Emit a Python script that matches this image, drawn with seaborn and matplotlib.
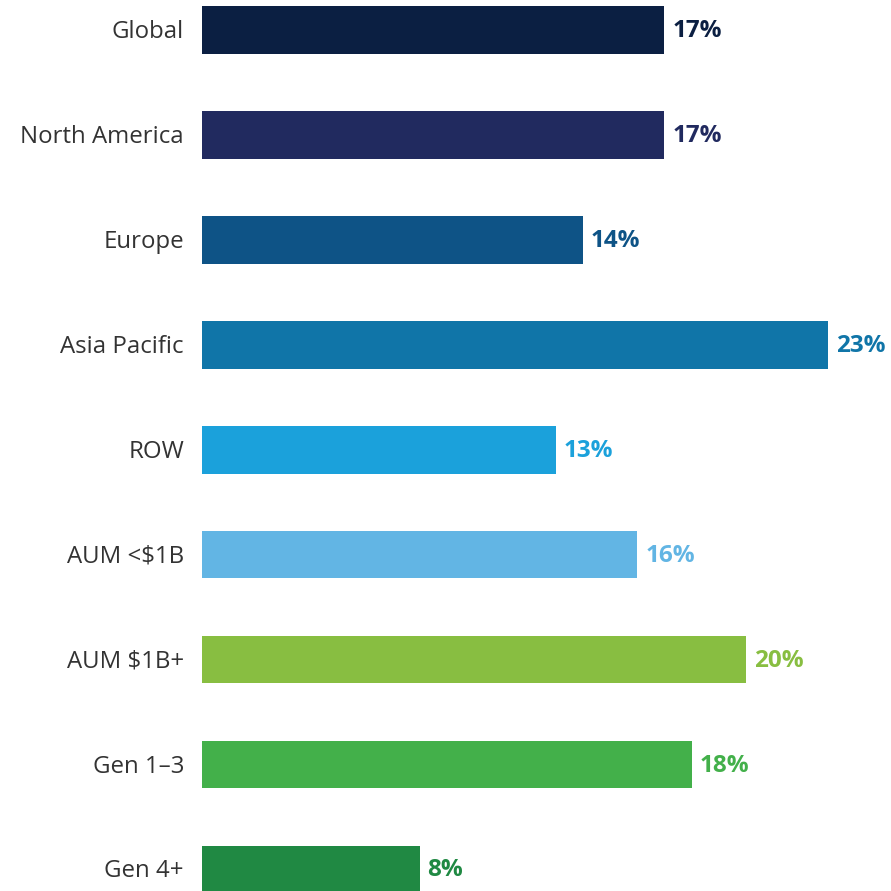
import matplotlib
matplotlib.use("Agg")
import matplotlib.pyplot as plt
import matplotlib.transforms as mtrans
import seaborn as sns
import pandas as pd
from matplotlib.transforms import offset_copy

categories = ["Global", "North America", "Europe", "Asia Pacific", "ROW",
              "AUM <$1B", "AUM $1B+", "Gen 1\u20133", "Gen 4+"]
values = [17, 17, 14, 23, 13, 16, 20, 18, 8]
colors = ["#0B1F42", "#212A5F", "#0E5386", "#1075A8", "#1BA1DB",
          "#62B5E4", "#88BE41", "#43B04A", "#208943"]

sns.set_style("white")
plt.rcParams['font.family'] = ['Open Sans', 'DejaVu Sans']

df = pd.DataFrame({"cat": categories, "val": values})

fig = plt.figure(figsize=(8.91, 8.91), dpi=100)
ax = fig.add_axes([202/891, 0, 680/891, 1])
sns.barplot(data=df, x="val", y="cat", hue="cat", palette=colors, legend=False,
            orient="h", width=0.455, ax=ax, saturation=1, linewidth=0)
ax.set_xlim(0, 25)
ax.set_ylim(8.205, -0.284)
for s in ax.spines.values():
    s.set_visible(False)
ax.set_xticks([])
ax.set_xlabel("")
ax.set_ylabel("")
ax.tick_params(axis="y", length=0, pad=13, labelsize=17.3, labelcolor="#333333")
shift = mtrans.ScaledTranslation(0, -2/100, fig.dpi_scale_trans)
for lab in ax.get_yticklabels():
    lab.set_verticalalignment("center")
    lab.set_transform(lab.get_transform() + shift)

for i, (v, c) in enumerate(zip(values, colors)):
    tr = offset_copy(ax.transData, fig=fig, x=8, y=-1, units="dots")
    ax.text(v, i, f"{v}%", transform=tr, ha="left", va="center",
            fontsize=17.5, fontweight="bold", color=c)

fig.savefig("out.png", dpi=100)
